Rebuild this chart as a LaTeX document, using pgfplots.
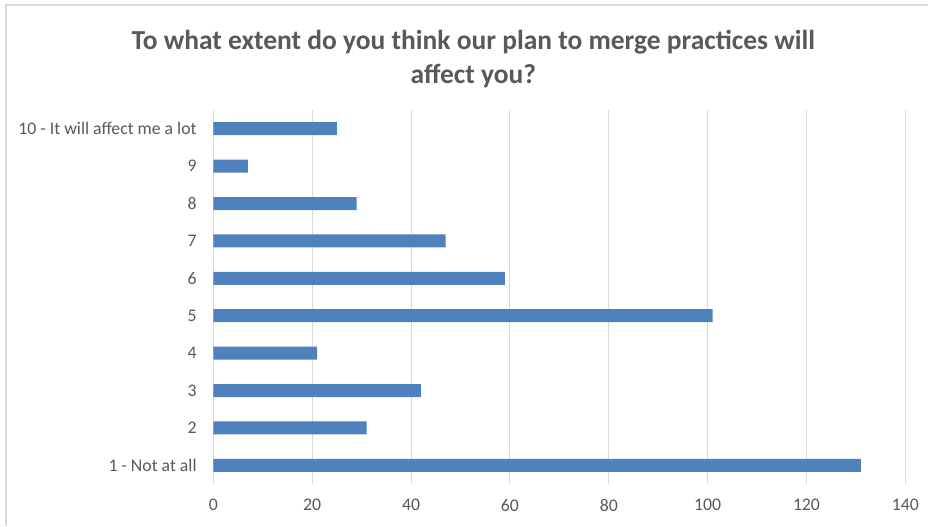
\documentclass[border=0pt]{standalone}
\usepackage{pgfplots}
\pgfplotsset{compat=1.18}
\usepackage{fontspec}
\setmainfont{Carlito}
\definecolor{txt}{HTML}{595959}
\definecolor{gridc}{HTML}{D9D9D9}
\definecolor{bar}{HTML}{4F81BD}
\begin{document}
\begin{tikzpicture}
\useasboundingbox (0,0) rectangle (696pt,394.5pt);
\fill[white] (0,0) rectangle (696pt,394.5pt);
\draw[gridc,line width=1.5pt] (4.5pt,0) -- (4.5pt,390.75pt) -- (696pt,390.75pt);
\node[font=\fontsize{20.6}{25.7}\selectfont\bfseries, text=txt, align=center] at (355pt,350.5pt)
  {To what extent do you think our plan to merge practices will\\affect you?};
\begin{axis}[
  at={(160pt,31.5pt)}, anchor=south west,
  scale only axis, width=519pt, height=280.5pt,
  xmin=0, xmax=140, ymin=0.5, ymax=10.5,
  xtick={0,20,...,140},
  ytick={1,...,10},
  yticklabels={1 - Not at all,2,3,4,5,6,7,8,9,10 - It will affect me a lot},
  xmajorgrids, grid style={gridc, line width=0.75pt},
  axis line style={draw=none},
  axis x line*=bottom, axis y line*=left,
  major tick length=0pt,
  tick label style={font=\fontsize{13.3}{15}\selectfont, text=txt},
  /pgf/number format/assume math mode=true,
  xticklabel style={yshift=-8pt},
  yticklabel style={xshift=-9pt},
  clip=false,
]
\addplot[xbar, bar width=9.75pt, fill=bar, draw=none] coordinates {
(131,1) (31,2) (42,3) (21,4) (101,5) (59,6) (47,7) (29,8) (7,9) (25,10)};
\end{axis}
\end{tikzpicture}
\end{document}
